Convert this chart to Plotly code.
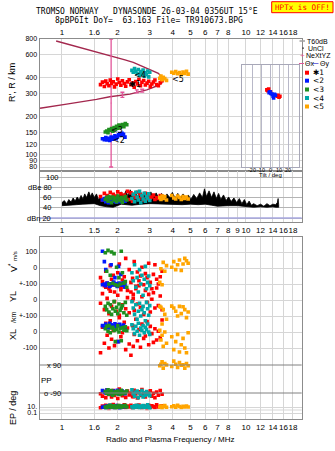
import math
import plotly.graph_objects as go

W, H = 335, 451

# ---------------- data ----------------
title_line1 = "TROMSO NORWAY   DYNASONDE 26-03-04 0356UT 15°E"
title_line2 = "8pBP6It DoY=  63.163 File= TR910673.BPG"
warning_text = "HPTx is OFF!"

freq_tickvals = [1, 1.5, 2, 3, 4, 5, 6, 7, 8, 10, 12, 14, 16, 18]
freq_ticktext = ["1", "1.6", "2", "3", "4", "5", "6", "7", "8", "10", "12", "14", "16", "18"]
freq_tickvals_mid = [1, 1.5, 2, 3, 4, 5, 6, 7, 8, 9, 10, 12, 14, 16, 18]
freq_ticktext_mid = ["1", "1.5", "2", "3", "4", "5", "6", "7", "8", "9", "10", "12", "14", "16", "18"]

height_ticks = [80, 90, 100, 120, 150, 200, 300, 400, 600, 800]
amp_ticks = [20, 40, 60, 80, 100]
amp_ticktext = ["dBn 20", "40", "60", "dBe 80", "100"]
tilt_ticks = [-20, -10, 0, 10, 20]

# model profile (crimson curve)
profile_f = [0.93, 1.20, 1.50, 1.87, 2.20, 2.44, 2.89, 3.34, 3.48, 3.52, 3.48, 3.30, 2.89, 2.34, 1.82, 1.54, 1.06, 0.76]
profile_h = [771, 700, 644, 593, 550, 526, 472, 432, 405, 385, 361, 345, 320, 297, 283, 270, 248, 230]

# NeXtYZ bars
nx_f = [1.85, 2.13, 2.55, 2.73]
nx_h = [253, 293, 312, 316]
nx_up = [547, 14, 8, 8]
nx_dn = [173, 13, 8, 8]

# echoes: red (*1)
red_f = [1.62, 1.66, 1.70, 1.73, 1.76, 1.80, 1.83, 1.86, 1.90, 1.93, 1.97, 2.01, 2.05, 2.09, 2.13, 2.18, 2.22, 2.27, 2.32, 2.37,
         2.42, 2.47, 2.52, 2.57, 2.62, 2.67, 2.72, 2.78, 2.84, 2.90, 2.96, 3.02, 3.08, 3.14, 3.20, 3.27, 3.34, 3.42, 3.50, 2.44]
red_h = [352, 368, 340, 375, 358, 345, 382, 360, 371, 338, 355, 390, 366, 348, 377, 359, 342, 370, 384, 351,
         363, 336, 372, 357, 388, 345, 367, 379, 350, 362, 374, 341, 356, 369, 383, 353, 346, 365, 378, 360]
red_amp = [62, 55, 68, 58, 64, 52, 70, 60, 66, 57, 63, 71, 54, 67, 59, 65, 61, 72, 56, 69,
           53, 64, 60, 70, 58, 66, 62, 55, 68, 57, 63, 59, 61, 65, 56, 60, 58, 64, 62, 66]
red_v = [-60, -85, -110, -20, -95, -130, 15, -70, -45, -150, -100, -30, 25, -120, -75, -55, 60, -140, -10, -90,
         -65, 40, -115, -25, -80, -50, 5, -105, -35, -60, 30, -90, -130, -40, 20, -70, -100, -55, -20, -165]
red_yl = [-20, 40, -60, 80, 10, -85, 55, -40, 95, -10, -70, 30, -95, 65, -30, 85, -55, 15, -80, 50,
          -5, -65, 70, -25, 90, -45, 20, -90, 60, -15, 35, -75, 5, 45, -50, 75, -35, 25, -60, 10]
red_xl = [-130, 30, -70, 55, -20, -100, 70, -45, 10, -85, 45, -60, 90, -30, -5, 60, -110, 25, -75, -145,
          40, -15, 80, -55, 15, -95, 50, -40, -25, 65, -80, 35, -10, -65, 20, -50, 5, -35, 75, -90]
red_pp = [-95, -110, -80, -120, -70, -100, -88, -115, -75, -105, -92, -125, -65, -98, -108, -85, -118, -78, -102, -90,
          -112, -72, -96, -122, -82, -106, -68, -94, -116, -86, -100, -76, -110, -92, -120, -84, -104, -74, -98, -114]
red_ep = [5, 20, 8, 40, 12, 3, 25, 10, 60, 6, 15, 30, 4, 18, 9, 50, 7, 22, 11, 35,
          5, 14, 28, 8, 45, 12, 6, 20, 16, 3, 38, 9, 24, 13, 7, 55, 10, 17, 26, 6]

# blue (<2)
blue_f = [1.66, 1.70, 1.73, 1.76, 1.79, 1.82, 1.85, 1.88, 1.91, 1.94, 1.97, 2.00, 2.03, 2.06, 2.09, 2.12, 2.16, 2.20]
blue_h = [133, 131, 136, 130, 134, 129, 137, 132, 135, 140, 133, 138, 143, 146, 141, 147, 144, 137]
blue_amp = [55, 58, 52, 60, 50, 57, 54, 59, 53, 56, 51, 58, 55, 52, 57, 54, 56, 53]
blue_v = [105, 40, -10, -95, -100, -110, 20, -105, -90, -60, -100, -115, 10, -95, -40, -100, -105, -120]
blue_yl = [95, 100, 90, 105, 98, 85, 102, 95, 110, 100, 92, 88, 104, 97, 100, 93, 108, 99]
blue_xl = [40, 30, 50, 35, 25, 55, 45, 28, 38, 52, 33, 42, -60, 48, 30, 36, 44, 26]
blue_pp = [-75, -85, -90, -70, -95, -80, -88, -100, -78, -92, -85, -72, -96, -83, -90, -76, -87, -94]
blue_ep = [8, 15, 5, 25, 10, 40, 7, 12, 20, 6, 30, 9, 14, 4, 18, 11, 22, 13]

# green (<3)
green_f = [1.72, 1.75, 1.78, 1.80, 1.83, 1.86, 1.89, 1.92, 1.95, 1.98, 2.01, 2.04, 2.07, 2.10, 2.13, 2.17, 2.21, 2.25]
green_h = [150, 153, 148, 157, 155, 160, 152, 163, 158, 166, 161, 170, 164, 168, 172, 165, 175, 171]
green_amp = [56, 60, 53, 62, 58, 50, 61, 55, 59, 52, 63, 57, 54, 60, 51, 58, 62, 55]
green_v = [95, -20, 110, -100, -45, 100, -95, 90, -105, 5, -110, -60, -100, 105, -30, -95, -85, -120]
green_yl = [-40, -60, -20, -75, -30, -90, -55, -10, -70, -45, -85, -25, -65, -50, -35, -80, -15, -95]
green_xl = [20, 35, 5, 40, -5, 25, 30, 10, -60, 15, 38, 0, 22, -55, 28, 12, 33, 8]
green_pp = [-80, -92, -70, -98, -86, -75, -104, -90, -82, -95, -78, -88, -100, -72, -94, -84, -90, -77]
green_ep = [10, 6, 20, 12, 35, 8, 15, 25, 5, 18, 9, 30, 11, 7, 22, 14, 40, 10]

# cyan (<4)
cyan_f = [2.40, 2.44, 2.48, 2.52, 2.56, 2.60, 2.64, 2.68, 2.72, 2.76, 2.80, 2.84, 2.88, 2.92, 2.96, 3.00]
cyan_h = [455, 440, 470, 448, 430, 462, 415, 445, 425, 458, 410, 435, 420, 450, 405, 440]
cyan_amp = [58, 66, 52, 70, 61, 55, 72, 50, 64, 57, 68, 53, 62, 59, 67, 54]
cyan_v = [-30, -80, 20, -120, -60, -150, -10, -100, -45, -170, -70, 10, -130, -90, -50, -110]
cyan_yl = [-10, -50, -90, -30, -120, -70, -20, -100, -60, -40, -80, -130, -15, -55, -95, -35]
cyan_xl = [45, 20, -10, 35, 5, 55, -20, 25, 10, 40, -5, 30, 15, 50, 0, -15]
cyan_pp = [-70, -95, -110, -85, -78, -120, -90, -100, -75, -115, -88, -105, -80, -98, -92, -108]
cyan_ep = [12, 5, 25, 8, 40, 15, 6, 20, 10, 30, 7, 18, 9, 50, 14, 4]

# orange (<5)
orange_f = [3.40, 3.45, 3.50, 3.55, 3.62, 3.70, 3.95, 4.05, 4.15, 4.25, 4.35, 4.45, 4.55, 4.65, 4.75, 4.85]
orange_h = [395, 410, 385, 402, 392, 380, 440, 432, 445, 428, 438, 420, 442, 430, 448, 425]
orange_amp = [60, 56, 63, 58, 62, 55, 64, 59, 57, 63, 60, 56, 62, 58, 61, 57]
orange_v = [-90, -5, -105, 35, -20, 15, 5, 40, -10, 20, 50, -15, 25, 60, 45, 30]
orange_yl = [-40, -45, -150, -60, -90, -120, -38, -50, -70, -100, -40, -85, -42, -60, -110, -75]
orange_xl = [10, -50, -20, -90, 0, -70, -30, -110, -60, -15, -125, -80, -40, -100, -130, -5]
orange_pp = [85, 95, 110, 70, 100, 90, 80, 115, 95, 75, 105, 88, 92, 70, 100, 85]
orange_ep = [10, 20, 6, 15, 30, 8, 12, 25, 9, 40, 14, 7, 18, 11, 22, 10]

# tilt inset
tilt_x_red = [-3.5, -2.5, -1.5, 0.5, 8.0, 9.0, 10.0, 11.0]
tilt_y_red = [29, 28, 30, 27, 22, 23, 21, 22]
tilt_x_blue = [-1.0, 0.0, 1.0, 2.5, 3.5, 5.0, 6.0, 4.0]
tilt_y_blue = [26, 27, 25, 24, 22, 24, 23, 20]

# trace labels
label_text = ["✱1", "<2", "<3", "<4", "<5"]
label_f = [2.49, 2.04, 1.98, 2.66, 4.27]
label_h = [350, 128, 153, 413, 389]

# noise (dBe) envelope
noise_up_f = [1.00, 1.03, 1.06, 1.09, 1.12, 1.15, 1.18, 1.21, 1.24, 1.27, 1.30, 1.33, 1.36, 1.40, 1.43, 1.46, 1.50, 1.54,
              1.58, 1.62, 1.66, 1.70, 1.75, 1.80, 1.86, 1.92, 1.98, 2.04, 2.10, 2.16, 2.22, 2.28, 2.35, 2.42, 2.50, 2.58,
              2.66, 2.75, 2.84, 2.94, 3.04, 3.14, 3.25, 3.36, 3.48, 3.60, 3.72, 3.85, 3.98, 4.12, 4.26, 4.40, 4.55, 4.70,
              4.86, 5.02, 5.20, 5.40, 5.60, 5.80, 5.95, 6.10, 6.30, 6.50, 6.70, 6.90, 7.10, 7.30, 7.55, 7.80, 8.05, 8.30,
              8.60, 8.90, 9.20, 9.50, 9.80, 10.1, 10.4, 10.7, 11.0, 11.5, 12.0, 12.5, 13.0, 13.5, 14.0, 14.5, 14.8, 14.95, 15.05]
noise_up_db = [50, 54, 48, 56, 51, 59, 53, 61, 55, 64, 57, 67, 60, 71, 62, 69, 60, 67,
               56, 61, 53, 60, 55, 63, 56, 62, 55, 65, 71, 60, 73, 63, 75, 64, 71, 61,
               72, 62, 69, 60, 71, 61, 69, 59, 68, 58, 67, 60, 70, 59, 68, 58, 67, 57,
               65, 56, 66, 58, 69, 60, 77, 62, 73, 60, 71, 58, 68, 56, 65, 54, 61, 52,
               59, 50, 58, 48, 56, 46, 53, 45, 48, 44, 47, 43, 48, 44, 47, 46, 50, 58, 46]
noise_lo_f = [15.05, 14.5, 14.0, 13.0, 12.0, 11.0, 10.0, 9.0, 8.0, 7.0, 6.5, 6.0, 5.5, 5.0, 4.5, 4.0, 3.5, 3.0,
              2.7, 2.4, 2.1, 1.9, 1.75, 1.62, 1.5, 1.4, 1.3, 1.2, 1.1, 1.0]
noise_lo_db = [41, 41, 42, 41, 42, 41, 43, 44, 44, 43, 45, 47, 46, 47, 46, 47, 48, 48,
               47, 45, 47, 41, 42, 44, 48, 48, 47, 46, 45, 44]

# ---------------- geometry helpers ----------------
def px2x(px):
    return px / W

def py2y(py):
    return 1 - py / H

X_DOM = [px2x(39.5), px2x(301.7)]
X_RANGE = [math.log10(0.755), math.log10(20.08)]
TOP_DOM = [py2y(171), py2y(39)]
MID_DOM = [py2y(222), py2y(171)]
BOT_DOM = [py2y(419), py2y(237)]
INS_XDOM = [px2x(242.3), px2x(298.7)]
INS_YDOM = [py2y(167), py2y(65)]
INS_XRANGE = [-30.8, 31.9]

top_range = [2.90309 - 132 / 128, 2.90309]
mid_range = [20 - 4 / 0.5125, 20 + 47 / 0.5125]

# bottom composite panel: y in panel units (0 at bottom frame)
def v_pos(v):
    return 151 + v * 0.16

def yl_pos(v):
    return 119 + v * 0.16

def xl_pos(v):
    return 87 + v * 0.16

def pp_pos(v):
    return 40 + v * 14 / 90

def ep_pos(v):
    return 12 + (math.log10(v) - 1) * 3

RED = "#ff0000"
BLUE = "#0018ff"
GREEN = "#1f8f1f"
CYAN = "#00a8a8"
ORANGE = "#ffa500"
PINK = "#e2559a"
CRIMSON = "#a3284e"
GRID = "#d6d6d6"
FRAME = "#8c8c8c"
FONT = "Liberation Sans"

series = [
    (RED, red_f, red_h, red_amp, red_v, red_yl, red_xl, red_pp, red_ep),
    (BLUE, blue_f, blue_h, blue_amp, blue_v, blue_yl, blue_xl, blue_pp, blue_ep),
    (GREEN, green_f, green_h, green_amp, green_v, green_yl, green_xl, green_pp, green_ep),
    (CYAN, cyan_f, cyan_h, cyan_amp, cyan_v, cyan_yl, cyan_xl, cyan_pp, cyan_ep),
    (ORANGE, orange_f, orange_h, orange_amp, orange_v, orange_yl, orange_xl, orange_pp, orange_ep),
]

fig = go.Figure()

# ---- top panel ----
fig.add_trace(go.Scatter(x=profile_f, y=profile_h, mode="lines", line=dict(color=CRIMSON, width=1.4),
                         xaxis="x", yaxis="y", hoverinfo="skip"))
fig.add_trace(go.Scatter(x=nx_f, y=nx_h, mode="markers", marker=dict(size=1, color=PINK),
                         error_y=dict(type="data", symmetric=False, array=nx_up, arrayminus=nx_dn,
                                      color=PINK, thickness=1.3, width=2),
                         xaxis="x", yaxis="y", hoverinfo="skip"))

mk = dict(symbol="square", size=3.6, line=dict(width=0))
for col, f, h, amp, v, yl, xl, pp, ep in series:
    fig.add_trace(go.Scatter(x=f, y=h, mode="markers", marker=dict(color=col, **mk), xaxis="x", yaxis="y"))

# ---- middle panel noise ----
fig.add_trace(go.Scatter(x=noise_up_f + noise_lo_f, y=noise_up_db + noise_lo_db, mode="lines", fill="toself",
                         fillcolor="black", line=dict(color="black", width=0.8), xaxis="x2", yaxis="y2"))
for col, f, h, amp, v, yl, xl, pp, ep in series:
    fig.add_trace(go.Scatter(x=f, y=amp, mode="markers", marker=dict(color=col, **mk), xaxis="x2", yaxis="y2"))

# ---- bottom panel ----
for col, f, h, amp, v, yl, xl, pp, ep in series:
    xs = f * 5
    ys = ([v_pos(a) for a in v] + [yl_pos(a) for a in yl] + [xl_pos(a) for a in xl]
          + [pp_pos(a) for a in pp] + [ep_pos(a) for a in ep])
    fig.add_trace(go.Scatter(x=xs, y=ys, mode="markers", marker=dict(color=col, **mk), xaxis="x3", yaxis="y3"))

# ---- inset ----
fig.add_trace(go.Scatter(x=tilt_x_red, y=tilt_y_red, mode="markers", marker=dict(color=RED, **mk),
                         xaxis="x4", yaxis="y4"))
fig.add_trace(go.Scatter(x=tilt_x_blue, y=tilt_y_blue, mode="markers", marker=dict(color=BLUE, **mk),
                         xaxis="x4", yaxis="y4"))

tickfont = dict(family=FONT, size=8, color="black")
xcommon = dict(type="log", range=X_RANGE, domain=X_DOM, showgrid=True, gridcolor=GRID, gridwidth=1,
               showline=True, linecolor=FRAME, mirror=True, zeroline=False, ticks="", tickfont=tickfont,
               automargin=False, tickmode="array", tickangle=0)

bottom_tickvals = [6, 12, 71, 87, 103, 119, 135, 151, 167]
bottom_ticktext = ["0.1", "10.", "-100", "0", "+-100", "0", "+-100", "0", "100"]

fig.update_layout(
    width=W, height=H, margin=dict(l=0, r=0, t=0, b=0), autosize=False,
    paper_bgcolor="white", plot_bgcolor="rgba(0,0,0,0)", showlegend=False,
    xaxis=dict(**xcommon, anchor="y", side="top", tickvals=freq_tickvals, ticktext=freq_ticktext),
    yaxis=dict(type="log", range=top_range, domain=TOP_DOM, anchor="x", tickmode="array", tickvals=height_ticks,
               ticktext=[str(t) for t in height_ticks], showgrid=True, gridcolor=GRID, showline=True,
               linecolor=FRAME, mirror=True, ticks="", tickfont=dict(family=FONT, size=7, color="black"),
               zeroline=False, automargin=False),
    xaxis2=dict(**xcommon, anchor="y2", side="bottom", tickvals=freq_tickvals_mid, ticktext=freq_ticktext_mid),
    yaxis2=dict(range=mid_range, domain=MID_DOM, anchor="x2", tickmode="array", tickvals=amp_ticks,
                showticklabels=False, showgrid=True, gridcolor="#b4b4b4", showline=True, linecolor=FRAME,
                mirror=True, ticks="", zeroline=False, automargin=False),
    xaxis3=dict(**xcommon, anchor="y3", side="bottom", tickvals=freq_tickvals, ticktext=freq_ticktext),
    yaxis3=dict(range=[0, 182], domain=BOT_DOM, anchor="x3", tickmode="array", tickvals=bottom_tickvals,
                ticktext=bottom_ticktext, showgrid=True, gridcolor=GRID, showline=True, linecolor=FRAME,
                mirror=True, ticks="", tickfont=dict(family=FONT, size=7, color="black"), zeroline=False,
                automargin=False),
    xaxis4=dict(range=INS_XRANGE, domain=INS_XDOM, anchor="y4", tickmode="array",
                tickvals=tilt_ticks, showticklabels=False,
                showgrid=True, gridcolor="#b8b8c8", showline=True, linecolor="#a8a8b8", mirror=True,
                ticks="", zeroline=False, automargin=False),
    yaxis4=dict(range=[-56.7, 56.7], domain=INS_YDOM, anchor="x4", showgrid=False, showticklabels=False,
                showline=True, linecolor="#a8a8b8", mirror=True, ticks="", zeroline=False, automargin=False),
)

shapes = []
# EP = 1 gridline (unlabelled)
shapes.append(dict(type="line", xref="x3 domain", yref="y3", x0=0, x1=1, y0=ep_pos(1), y1=ep_pos(1),
                   line=dict(color=GRID, width=1)))
for yv in [pp_pos(90), pp_pos(-90)]:
    shapes.append(dict(type="line", xref="x3 domain", yref="y3", x0=0, x1=1, y0=yv, y1=yv,
                       line=dict(color="#808080", width=1)))
shapes.append(dict(type="line", xref="x2 domain", yref="y2", x0=0, x1=1, y0=20, y1=20,
                   line=dict(color="#a8a8e0", width=1.5)))
shapes.append(dict(type="rect", xref="paper", yref="paper", x0=px2x(271.7), x1=px2x(333), y0=py2y(12.7),
                   y1=py2y(1.7), fillcolor="#ffff00", line=dict(color="#ff0000", width=1)))
shapes.append(dict(type="line", xref="paper", yref="paper", x0=px2x(299.5), x1=px2x(305), y0=py2y(41),
                   y1=py2y(41), line=dict(color="#a0a0a0", width=1.5)))
shapes.append(dict(type="rect", xref="paper", yref="paper", x0=px2x(302.5), x1=px2x(303.7), y0=py2y(48.8),
                   y1=py2y(47.6), fillcolor="black", line=dict(width=0)))
shapes.append(dict(type="line", xref="paper", yref="paper", x0=px2x(299), x1=px2x(304), y0=py2y(63.5),
                   y1=py2y(63.5), line=dict(color=PINK, width=1)))
shapes.append(dict(type="line", xref="paper", yref="paper", x0=px2x(313), x1=px2x(318.5), y0=py2y(63.5),
                   y1=py2y(63.5), line=dict(color="#7070e0", width=1)))
leg_cols = [RED, BLUE, GREEN, CYAN, ORANGE]
leg_py = [72.7, 80.7, 89.5, 98, 106.5]
for c, p in zip(leg_cols, leg_py):
    shapes.append(dict(type="rect", xref="paper", yref="paper", x0=px2x(305), x1=px2x(309), y0=py2y(p + 2),
                       y1=py2y(p - 2), fillcolor=c, line=dict(width=0)))
fig.update_layout(shapes=shapes)

ann = []
def text(px, py, s, size=8, anchor="center", color="black", family=FONT, angle=0):
    ann.append(dict(xref="paper", yref="paper", x=px2x(px), y=py2y(py), text=s, showarrow=False,
                    xanchor=anchor, yanchor="middle", textangle=angle, borderpad=0,
                    font=dict(family=family, size=size, color=color)))

text(35, 11.8, title_line1, size=8, anchor="left", family="DejaVu Sans Mono")
text(54, 20.6, title_line2, size=8, anchor="left", family="DejaVu Sans Mono")
text(302.3, 7.5, warning_text, size=7.6, color="#ff0000", family="DejaVu Sans Mono")

# legend text
text(305.5, 41, "T60dB", size=7, anchor="left")
text(307, 48.3, "UnCl", size=7, anchor="left")
text(302.5, 56, "+", size=8, anchor="center", color=PINK)
text(305.2, 56, "NeXtYZ", size=7, anchor="left")
text(304.3, 63.5, "Θx", size=7, anchor="left")
text(318.5, 63.5, "Θy", size=7, anchor="left")
for s, p in zip(label_text, leg_py):
    text(312, p, s, size=7.5, anchor="left", family="DejaVu Sans")

# middle panel labels (drawn inside left of the frame)
amp_label_px = [52, 52, 52, 53, 60]
for t, s, lpx in zip(amp_ticks, amp_ticktext, amp_label_px):
    text(lpx, 218 - (t - 20) * 0.5125, s, size=7.5, anchor="right")

# inset tilt tick labels (compact, just under the box)
for t in tilt_ticks:
    ann.append(dict(xref="x4", yref="paper", x=t, y=py2y(169.8), text=str(t), showarrow=False, borderpad=0,
                    xanchor="center", yanchor="middle", font=dict(family=FONT, size=5.5, color="black")))
text(270, 175.2, "Tilt / deg", size=6)

# PP labels
text(62, 365, "x 90", size=7.5, anchor="right")
text(62, 393, "o -90", size=7.5, anchor="right")

# axis titles
text(12, 83, "R', R / km", size=9, angle=-90)
text(13, 262, "V<sup>*</sup> <span style='font-size:6px'>m/s</span>", size=9, angle=-90)
text(13, 297, "YL", size=9, angle=-90)
text(13, 318, "/km", size=7, angle=-90)
text(13, 335, "XL", size=9, angle=-90)
text(13, 408, "EP / deg", size=9, angle=-90)
text(46.5, 380, "PP", size=8)
text(170, 439, "Radio and Plasma Frequency / MHz", size=8)

# trace labels in top panel
for s, f, h in zip(label_text, label_f, label_h):
    ann.append(dict(xref="x", yref="y", x=math.log10(f), y=math.log10(h), text=s, showarrow=False, borderpad=0,
                    font=dict(family="DejaVu Sans", size=8, color="black")))

fig.update_layout(annotations=ann)
fig.write_html("out.html")
